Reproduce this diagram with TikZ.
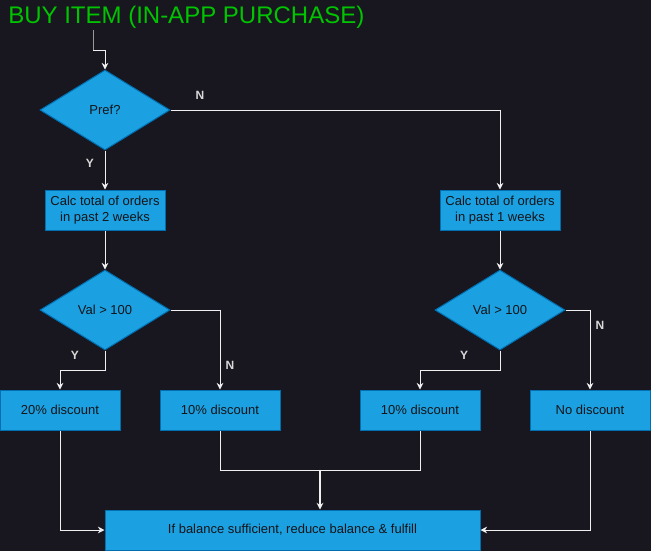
\documentclass[tikz,border=0pt]{standalone}
\usepackage{fontspec}
\setmainfont{Liberation Sans}
\usetikzlibrary{arrows.meta,shapes.geometric}
\definecolor{bgdark}{HTML}{18161F}
\definecolor{boxfill}{HTML}{1BA1E2}
\definecolor{boxline}{HTML}{006EAF}
\definecolor{titlegreen}{HTML}{00C400}
\definecolor{boxtext}{HTML}{141418}

\begin{document}
\begin{tikzpicture}[x=0.75pt,y=-0.75pt,>=Stealth,
  procbox/.style={draw=boxline,fill=boxfill,text=boxtext,line width=0.75pt,
    font=\fontsize{9.75}{11.5}\selectfont,align=center,inner sep=1pt,
    minimum width=90pt,minimum height=30pt},
  decision/.style={procbox,diamond,inner sep=0pt,
    minimum width=97.5pt,minimum height=60pt},
  flow/.style={draw=white!94!black,line width=0.75pt,
    -{Stealth[length=5pt,width=5pt]}},
  link/.style={draw=white!94!black,line width=0.75pt},
  yn/.style={text=white!85!black,font=\bfseries\fontsize{9}{10}\selectfont}]
  \useasboundingbox (0,0) rectangle (651,551);
  \fill[bgdark] (0,0) rectangle (651,551);

  \node[anchor=base west,inner sep=0pt,text=titlegreen,
    font=\fontsize{18}{20}\selectfont] (title) at (8,23) {BUY ITEM (IN-APP PURCHASE)};

  \node[decision] (pref) at (105,110) {Pref?};
  \node[procbox] (calca) at (105,210) {Calc total of orders\\in past 2 weeks};
  \node[procbox] (calcb) at (500,210) {Calc total of orders\\in past 1 weeks};
  \node[decision] (vala) at (105,310) {Val > 100};
  \node[decision] (valb) at (500,310) {Val > 100};
  \node[procbox] (twenty) at (60,410) {20\% discount};
  \node[procbox] (tena) at (220,410) {10\% discount};
  \node[procbox] (tenb) at (420,410) {10\% discount};
  \node[procbox] (nodisc) at (590,410) {No discount};
  \node[procbox,minimum width=281.25pt] (final) at (292.5,530)
    {If balance sufficient, reduce balance \& fulfill};

  % start
  \coordinate (start) at (93,30);
  \draw[flow] (start) -- ++(0,20) -| (pref.north);
  \draw[draw=gray!80,line width=0.75pt] (start) -- ++(0,20);

  % first decision
  \draw[flow] (pref.east) -| (calcb.north);
  \draw[flow] (pref.south) -- (calca.north);
  \node[yn] (prefn) at (200,95) {N};
  \node[yn] (prefy) at (90,163) {Y};

  \draw[flow] (calca.south) -- (vala.north);
  \draw[flow] (calcb.south) -- (valb.north);

  % left branch
  \draw[flow] (vala.south) -- ++(0,20) -| (twenty.north);
  \draw[flow] (vala.east) -| (tena.north);
  \node[yn] (valay) at (75,355) {Y};
  \node[yn] (valan) at (230,365) {N};

  % right branch
  \draw[flow] (valb.south) -- ++(0,20) -| (tenb.north);
  \draw[flow] (valb.east) -| (nodisc.north);
  \node[yn] (valby) at (464,355) {Y};
  \node[yn] (valbn) at (600,325) {N};

  % into the last step
  \draw[flow] (twenty.south) |- (final.west);
  \draw[flow] (nodisc.south) |- (final.east);
  \draw[link] (tena.south) -- ++(0,40) -| (tenb.south);
  \coordinate (merge) at (320,470);
  \draw[flow,line width=1pt] (merge) -- (merge |- final.north);
\end{tikzpicture}
\end{document}
